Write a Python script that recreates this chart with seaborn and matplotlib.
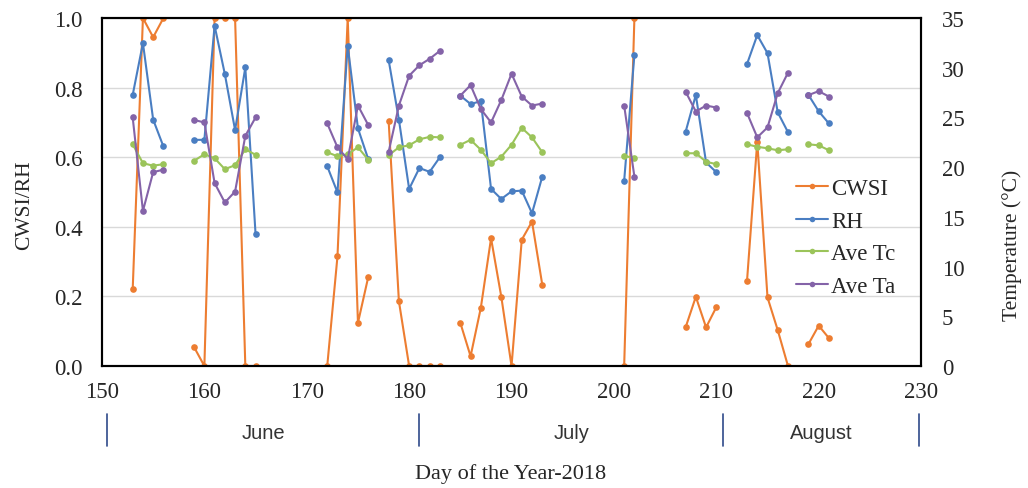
import numpy as np
import pandas as pd
import matplotlib.pyplot as plt
import seaborn as sns
from matplotlib.lines import Line2D

# Day of year for every measurement
days = [153, 154, 155, 156,
        159, 160, 161, 162, 163, 164, 165,
        172, 173, 174, 175, 176,
        178, 179, 180, 181, 182, 183,
        185, 186, 187, 188, 189, 190, 191, 192, 193,
        201, 202,
        207, 208, 209, 210,
        213, 214, 215, 216, 217,
        219, 220, 221]

cwsi = [0.22, 1.0, 0.945, 1.0,
        0.054, 0.0, 1.0, 1.0, 1.0, 0.0, 0.0,
        0.0, 0.315, 1.0, 0.124, 0.255,
        0.703, 0.186, 0.0, 0.0, 0.0, 0.0,
        0.124, 0.028, 0.167, 0.367, 0.199, 0.0, 0.363, 0.415, 0.234,
        0.0, 1.0,
        0.111, 0.199, 0.111, 0.169,
        0.245, 0.645, 0.197, 0.103, 0.0,
        0.063, 0.116, 0.080]

rh = [0.779, 0.928, 0.708, 0.631,
      0.650, 0.650, 0.978, 0.839, 0.678, 0.858, 0.379,
      0.574, 0.499, 0.920, 0.683, 0.595,
      0.879, 0.708, 0.509, 0.569, 0.558, 0.600,
      0.777, 0.753, 0.761, 0.509, 0.480, 0.502, 0.504, 0.439, 0.544,
      0.532, 0.894,
      0.673, 0.779, 0.585, 0.557,
      0.868, 0.951, 0.899, 0.729, 0.672,
      0.779, 0.732, 0.697]

ave_tc = [22.3, 20.4, 20.15, 20.3,
          20.65, 21.3, 20.9, 19.8, 20.2, 21.8, 21.25,
          21.5, 21.1, 21.3, 22.0, 20.75,
          21.2, 22.0, 22.2, 22.8, 23.05, 23.0,
          22.25, 22.75, 21.75, 20.4, 21.05, 22.25, 23.95, 23.0, 21.5,
          21.15, 20.9,
          21.4, 21.4, 20.55, 20.3,
          22.3, 22.05, 21.9, 21.7, 21.8,
          22.3, 22.2, 21.7]

ave_ta = [25.0, 15.6, 19.5, 19.75,
          24.75, 24.5, 18.4, 16.45, 17.55, 23.15, 25.0,
          24.4, 22.0, 20.8, 26.2, 24.25,
          21.55, 26.2, 29.2, 30.25, 30.9, 31.7,
          27.2, 28.25, 25.85, 24.5, 26.75, 29.4, 27.1, 26.2, 26.4,
          26.2, 19.05,
          27.6, 25.6, 26.2, 26.0,
          25.45, 23.0, 24.0, 27.45, 29.5,
          27.25, 27.65, 27.1]

months = ["June", "July", "August"]
month_bounds = [150.5, 181, 210.7, 229.8]

df = pd.DataFrame({"day": days, "CWSI": cwsi, "RH": rh, "Ave Tc": ave_tc, "Ave Ta": ave_ta})
# consecutive days form one segment, gaps break the line
df["seg"] = (df["day"].diff() > 1).cumsum()

colors = {"CWSI": "#ED7D31", "RH": "#4A7EC2", "Ave Tc": "#9BC45A", "Ave Ta": "#8463A8"}

sns.set_style("white")
plt.rcParams["font.family"] = ["Liberation Serif", "DejaVu Serif"]

fig = plt.figure(figsize=(10.28, 4.89), dpi=100)
ax = fig.add_axes([0.0992, 0.2495, 0.7968, 0.7115])
ax2 = ax.twinx()

for col in ["CWSI", "RH"]:
    sns.lineplot(data=df, x="day", y=col, units="seg", estimator=None, marker="o",
                 markersize=4.8, markeredgewidth=0, linewidth=1.5, color=colors[col], ax=ax)
for col in ["Ave Tc", "Ave Ta"]:
    sns.lineplot(data=df, x="day", y=col, units="seg", estimator=None, marker="o",
                 markersize=4.8, markeredgewidth=0, linewidth=1.5, color=colors[col], ax=ax2)

ax.set_xlim(150, 230)
ax.set_ylim(0, 1.0)
ax2.set_ylim(0, 35)
ax.set_xticks(range(150, 231, 10))
ax.set_yticks(np.arange(0, 1.01, 0.2))
ax.set_yticklabels([f"{v:.1f}" for v in np.arange(0, 1.01, 0.2)])
ax2.set_yticks(range(0, 36, 5))
ax.yaxis.grid(True, color="#D9D9D9", linewidth=1)
ax.set_axisbelow(True)
for a in (ax, ax2):
    a.tick_params(length=0, labelsize=16.5)
    for s in a.spines.values():
        s.set_color("black")
        s.set_linewidth(1.5)
ax.tick_params(axis="x", pad=11)
ax.tick_params(axis="y", pad=14)
ax2.tick_params(axis="y", pad=15)

ax.set_xlabel("")
ax.set_ylabel("CWSI/RH", fontsize=15.5, va="center")
ax.yaxis.set_label_coords(-0.094, 0.466)
ax2.set_ylabel("Temperature (°C)", fontsize=15.5, va="center")
ax2.yaxis.set_label_coords(1.111, 0.35)
fig.text(0.497, 0.03, "Day of the Year-2018", ha="center", va="center", fontsize=16)

# month separators and labels below the axis
trans = ax.get_xaxis_transform()
for b in month_bounds:
    ax.plot([b, b], [-0.138, -0.23], color="#2F4A8A", linewidth=1.2, transform=trans, clip_on=False)
for i, m in enumerate(months):
    mid = (month_bounds[i] + month_bounds[i + 1]) / 2
    ax.text(mid, -0.19, m, transform=trans, ha="center", va="center", fontsize=14.5,
            family=["Liberation Sans Narrow", "Liberation Sans", "DejaVu Sans"], color="#333333")

handles = [Line2D([0], [0], color=colors[c], marker="o", markersize=4, markeredgewidth=0,
                  linewidth=1.5) for c in colors]
ax2.legend(handles, list(colors), loc="upper left", bbox_to_anchor=(0.847, 0.54),
           frameon=False, fontsize=16.5, handlelength=1.4, handletextpad=0.15,
           labelspacing=0.5, borderpad=0, borderaxespad=0)

fig.savefig("out.png", dpi=100)
